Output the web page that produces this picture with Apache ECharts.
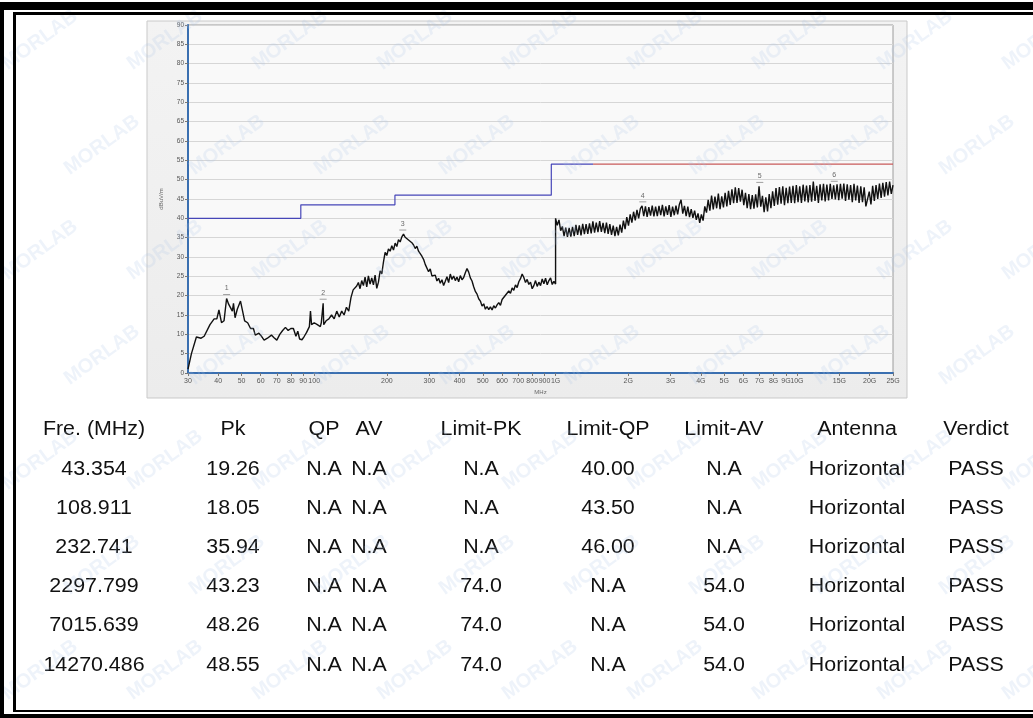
<!DOCTYPE html>
<html>
<head>
<meta charset="utf-8">
<script src="https://cdn.jsdelivr.net/npm/echarts@6/dist/echarts.min.js"></script>
<style>
html,body{margin:0;padding:0;background:#fff;}
#c{width:1033px;height:718px;}
</style>
</head>
<body>
<div id="c"></div>
<script>
// ---------- DATA ----------
const xTickValues = [30,40,50,60,70,80,90,100,200,300,400,500,600,700,800,900,1000,2000,3000,4000,5000,6000,7000,8000,9000,10000,15000,20000,25000];
const xTickLabels = ['30','40','50','60','70','80','90','100','200','300','400','500','600','700','800','900','1G','2G','3G','4G','5G','6G','7G','8G','9G','10G','15G','20G','25G'];

// low band trace (explicit readings)
const lowFreq = [30,31,32.5,34,35,37,38.5,39.5,40.3,41.3,42.3,43.354,44.2,45,45.8,46.3,47,48,49.5,50.5,51.5,53,54.5,56,57,59,60.5,62,64,65,66.5,68,70,72,74,76,78,80,82,84,85.5,87,89,91,93,94,95.5,96.5,97.5,100,103,106,107,108.911,109.5,112,115,118,121,124,127,130,133,136,139,142,145];
const lowLevel = [1,5,9.3,9,9.5,12.5,14,14,16.3,13,13.5,19.26,17.8,18.2,16,18,14.3,16.5,18.6,16,13.5,13,11.5,11.5,9.8,10.3,9.5,8.5,9,8.5,9.8,9.2,8.5,10,11,11.8,11,11.5,11.5,9.5,10.8,8.8,8.6,9.5,10.5,10,12,16,12.5,13,12.5,12,13,18.05,12.5,13.5,14,15,14,16,14.5,16,15,17,16,19.5,21.5];

// mid band sweep 150 MHz - 1 GHz (log spaced sweep points)
const midStart = 150, midEnd = 1000;
const midLevel = [
22.5,23.4,21.8,23.9,22.6,24.8,22.3,25.1,23.0,24.6,
22.8,25.3,21.9,23.5,26.4,25.6,28.7,31.2,30.4,32.1,
31.5,32.9,31.8,33.6,32.7,34.5,33.9,35.2,35.9,35.1,
35.6,34.4,34.9,33.7,33.1,32.2,32.8,31.5,31.0,30.2,
29.4,28.1,27.6,26.2,26.9,25.1,24.6,25.3,23.8,24.5,
23.2,24.1,22.6,23.7,24.9,23.4,25.6,24.2,25.1,23.9,
24.8,23.6,25.2,24.1,24.7,25.9,27.0,26.1,24.6,23.8,
22.3,21.1,20.4,19.2,18.6,17.3,17.9,16.5,17.2,16.4,
17.1,16.3,17.4,16.8,17.6,18.2,17.5,19.0,18.6,20.1,
19.7,21.2,20.6,22.0,21.4,22.8,22.1,23.6,24.4,25.6,
24.7,23.4,24.2,22.9,23.5,21.8,22.6,23.9,22.4,23.5,
22.6,24.3,23.1,24.5,22.8,23.9,24.6,22.9,23.7,23.0];

// high band sweep 1 GHz - 25 GHz (log spaced sweep points)
const highStart = 1000, highEnd = 25000;
const highLevel = [
40.0,38.2,39.6,36.8,37.9,35.4,37.6,35.2,37.5,35.3,
37.8,35.4,38.3,35.7,38.2,35.6,38.6,35.9,38.5,36.0,
38.7,36.1,39.2,36.3,38.9,36.4,39.3,36.5,38.8,36.2,
38.9,36.0,38.5,35.7,38.1,35.4,37.8,35.6,38.4,36.3,
39.4,37.2,40.3,38.1,41.0,38.9,41.7,39.5,42.2,40.0,
42.5,43.2,40.6,43.1,40.4,42.9,40.7,43.3,40.5,43.0,
40.6,43.2,40.8,43.5,40.5,43.1,40.9,43.4,40.4,43.0,
40.8,43.3,41.0,43.6,44.8,41.2,43.2,40.6,43.0,40.3,
42.4,40.1,42.0,39.6,41.3,38.8,41.0,39.4,43.1,41.5,
44.8,42.0,45.9,42.3,45.6,42.6,46.4,42.4,45.7,42.8,
46.6,43.1,47.1,43.5,47.5,43.9,48.0,44.0,47.8,44.3,
47.4,43.4,46.6,42.6,46.3,42.4,46.0,42.5,46.2,42.8,
48.26,43.0,45.8,41.6,45.4,41.8,46.3,42.6,47.0,43.2,
47.8,43.5,48.1,43.8,48.3,43.4,47.9,43.9,48.2,44.0,
48.4,43.9,48.6,44.2,48.3,44.0,48.7,44.4,48.5,44.1,
48.6,44.3,49.5,44.5,48.4,44.0,48.8,44.6,48.9,44.4,
48.7,44.6,48.9,45.0,48.55,44.9,48.8,44.7,48.9,45.1,
49.0,44.5,48.8,44.8,48.6,44.2,48.9,44.6,48.5,44.0,
48.3,44.2,48.0,43.1,42.8,46.9,43.6,48.4,44.5,48.6,
45.0,49.0,45.3,49.2,45.6,49.4,45.9,49.5,46.3,48.6];

// limit lines
const qpLimitFreq = [30,88,88,216,216,960,960,1430];
const qpLimitLevel = [40,40,43.5,43.5,46,46,54,54];
const avLimitFreq = [1430,25000];
const avLimitLevel = [54,54];

// table
const tableHeader = ['Fre. (MHz)','Pk','QP','AV','Limit-PK','Limit-QP','Limit-AV','Antenna','Verdict'];
const colFreq = ['43.354','108.911','232.741','2297.799','7015.639','14270.486'];
const colPk = ['19.26','18.05','35.94','43.23','48.26','48.55'];
const colQP = ['N.A','N.A','N.A','N.A','N.A','N.A'];
const colAV = ['N.A','N.A','N.A','N.A','N.A','N.A'];
const colLimitPK = ['N.A','N.A','N.A','74.0','74.0','74.0'];
const colLimitQP = ['40.00','43.50','46.00','N.A','N.A','N.A'];
const colLimitAV = ['N.A','N.A','N.A','54.0','54.0','54.0'];
const colAntenna = ['Horizontal','Horizontal','Horizontal','Horizontal','Horizontal','Horizontal'];
const colVerdict = ['PASS','PASS','PASS','PASS','PASS','PASS'];

// ---------- BUILD ----------
function sweep(start, end, levels){
  const n = levels.length;
  return levels.map((v,i)=>[start*Math.pow(end/start, i/(n-1)), v]);
}
const trace = lowFreq.map((f,i)=>[f, lowLevel[i]])
  .concat(sweep(midStart, midEnd, midLevel))
  .concat(sweep(highStart, highEnd, highLevel));
const qpLimit = qpLimitFreq.map((f,i)=>[f, qpLimitLevel[i]]);
const avLimit = avLimitFreq.map((f,i)=>[f, avLimitLevel[i]]);
const peaks = colFreq.map((f,i)=>[parseFloat(f), parseFloat(colPk[i])]);

function tickLabel(v){
  let best = 0, bd = Infinity;
  for (let i=0;i<xTickValues.length;i++){
    const d = Math.abs(Math.log(v/xTickValues[i]));
    if (d<bd){bd=d;best=i;}
  }
  return xTickLabels[best];
}

const FONT = '"Liberation Sans", Arial, Helvetica, sans-serif';
const graphics = [];

// chart panel
graphics.push({type:'rect', z:-10, shape:{x:147,y:21,width:760,height:377},
  style:{fill:new echarts.graphic.LinearGradient(0,0,0,1,[{offset:0,color:'#f3f3f3'},{offset:1,color:'#ececec'}]), stroke:'#c9c9c9', lineWidth:1}});

// frame
const frameRects = [
  [0,2,1033,8],[0,2,4,716],[0,714,1033,4],
  [13,12,1020,3],[13,12,3,700],[13,710,1020,2]
];
frameRects.forEach(r=>graphics.push({type:'rect', z:50, shape:{x:r[0],y:r[1],width:r[2],height:r[3]}, style:{fill:'#000'}}));

// table
const colX = [94,233,324,369,481,608,724,857,976];
const headerY = 429, rowY0 = 469, rowStep = 39.2;
const columns = [colFreq,colPk,colQP,colAV,colLimitPK,colLimitQP,colLimitAV,colAntenna,colVerdict];
function tableText(t, x, y){
  return {type:'text', z:20, x:x, y:y, scaleX:1.07, originX:0,
    style:{text:t, fill:'#111', font:'20px '+FONT, align:'center', verticalAlign:'middle'}};
}
tableHeader.forEach((h,ci)=>graphics.push(tableText(h, colX[ci], headerY)));
columns.forEach((col,ci)=>col.forEach((t,ri)=>graphics.push(tableText(t, colX[ci], rowY0+ri*rowStep))));

// watermarks
for (let r=0;r<7;r++){
  for (let c=0;c<9;c++){
    const x = 40 + c*125 + (r%2)*62;
    const y = 40 + r*105;
    graphics.push({type:'text', z:30, x:x, y:y, rotation:Math.PI/5,
      style:{text:'MORLAB', fill:'rgba(170,195,230,0.2)', font:'bold 20px '+FONT, align:'center', verticalAlign:'middle'}});
  }
}

const chart = echarts.init(document.getElementById('c'), null, {renderer:'canvas', width:1033, height:718});
chart.setOption({
  animation:false,
  backgroundColor:'#ffffff',
  graphic: graphics,
  grid:{left:188, top:25, width:705, height:348, show:true, backgroundColor:'#f9f9f9', borderColor:'#9c9c9c', borderWidth:1},
  xAxis:{
    type:'log', logBase:10, min:30, max:25000,
    name:'MHz', nameLocation:'middle', nameGap:16,
    nameTextStyle:{fontSize:6, color:'#666', fontFamily:FONT},
    axisLine:{show:true, onZero:false, lineStyle:{color:'#3a6fb0', width:2}},
    axisTick:{show:true, customValues:xTickValues, length:3, lineStyle:{color:'#777'}},
    axisLabel:{show:true, customValues:xTickValues, formatter:tickLabel, fontSize:7, color:'#555', margin:5, fontFamily:FONT},
    splitLine:{show:false}, minorTick:{show:false}
  },
  yAxis:{
    type:'value', min:0, max:90, interval:5,
    name:'dBuV/m', nameLocation:'middle', nameGap:24, nameRotate:90,
    nameTextStyle:{fontSize:6, color:'#666', fontFamily:FONT},
    axisLine:{show:true, lineStyle:{color:'#3a6fb0', width:2}},
    axisTick:{show:true, length:3, lineStyle:{color:'#777'}},
    axisLabel:{fontSize:6.5, color:'#555', margin:4, fontFamily:FONT},
    splitLine:{show:true, lineStyle:{color:'#d6d6d6', width:1}}
  },
  series:[
    {type:'line', data:qpLimit, showSymbol:false, lineStyle:{color:'#4646b8', width:1.2}, z:3, silent:true},
    {type:'line', data:avLimit, showSymbol:false, lineStyle:{color:'#c85a5a', width:1.2}, z:3, silent:true},
    {type:'line', data:trace, showSymbol:false, sampling:null, lineStyle:{color:'#111', width:1.4}, z:4, silent:true},
    {type:'scatter', data:peaks, symbol:'rect', symbolSize:[7,1], symbolOffset:[0,-4], itemStyle:{color:'#888'}, z:5,
      label:{show:true, position:'top', distance:2, fontSize:7, color:'#444', fontFamily:FONT, formatter:p=>String(p.dataIndex+1)}}
  ]
});
</script>
</body>
</html>
